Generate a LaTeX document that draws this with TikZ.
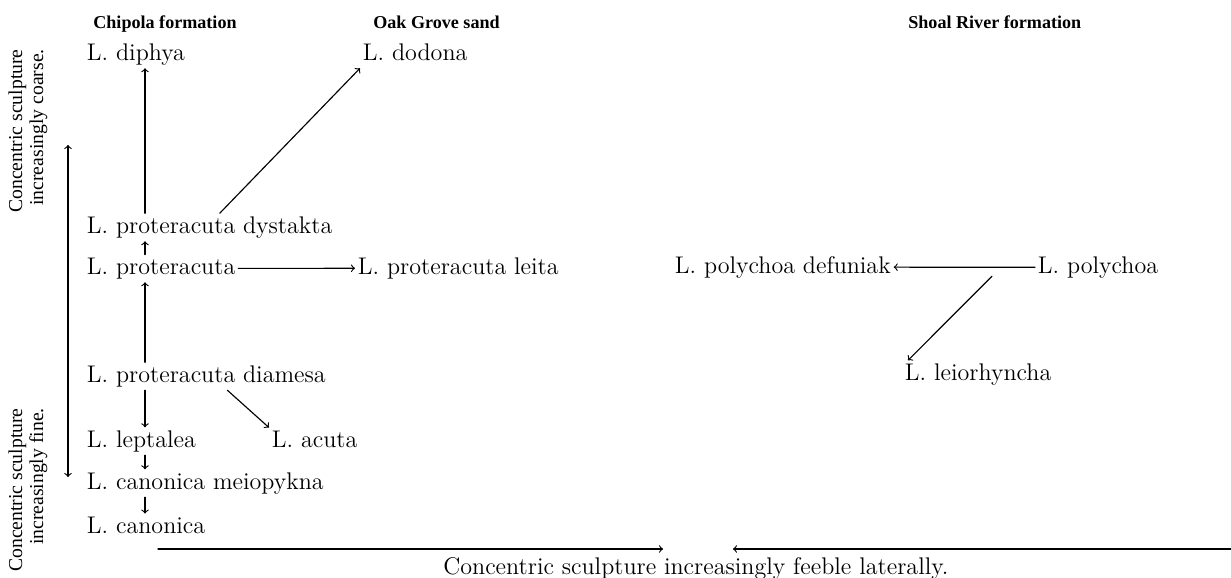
\documentclass[tikz,border=0pt]{standalone}
\usepackage{fontspec}
\usepackage{tikz}
\usetikzlibrary{calc}
\newfontfamily\headfont{Liberation Serif}

\tikzset{
  taxon/.style={anchor=base west, inner sep=1.5pt, text depth=0.3em,
    font=\fontsize{13.7}{16}\selectfont},
  heading/.style={anchor=base west, inner sep=0pt,
    font=\headfont\bfseries\fontsize{10.3}{12}\selectfont},
  sidenote/.style={rotate=90, anchor=east, inner sep=0pt, align=right,
    font=\headfont\fontsize{11.2}{12}\selectfont},
  axisnote/.style={anchor=base west, inner sep=0pt,
    font=\fontsize{13.7}{16}\selectfont},
  link/.style={->, line width=0.65pt},
}

\begin{document}
\begin{tikzpicture}[x=0.02cm, y=-0.02cm, line cap=round]
\useasboundingbox (0,0) rectangle (1231,578);
\coordinate (col) at (145,0);
% formations
\node[heading] (chipola) at (93,29) {Chipola formation};
\node[heading] (oakgrove) at (373,29) {Oak Grove sand};
\node[heading] (shoal) at (908,29) {Shoal River formation};
% species
\node[taxon] (diphya) at (84,60) {L. diphya};
\node[taxon] (dodona) at (360,60) {L. dodona};
\node[taxon] (dystakta) at (84,233) {L. proteracuta dystakta};
\node[taxon] (proter) at (84,274) {L. proteracuta};
\node[taxon] (leita) at (355,274) {L. proteracuta leita};
\node[taxon] (defuniak) at (672,273) {L. polychoa defuniak};
\node[taxon] (polychoa) at (1035,273) {L. polychoa};
\node[taxon] (diamesa) at (84,382) {L. proteracuta diamesa};
\node[taxon] (leiorh) at (902,380) {L. leiorhyncha};
\node[taxon] (leptalea) at (84,447) {L. leptalea};
\node[taxon] (acuta) at (269,447) {L. acuta};
\node[taxon] (meiopykna) at (84,489) {L. canonica meiopykna};
\node[taxon] (canonica) at (84,533) {L. canonica};
% side and bottom notes
\node[sidenote] (coarse) at (28,49) {Concentric sculpture\\increasingly coarse.};
\node[sidenote] (fine) at (28,408) {Concentric sculpture\\increasingly fine.};
\node[axisnote] (feeble) at (443,574) {Concentric sculpture increasingly feeble laterally.};
\coordinate (up) at (68,145);
\coordinate (down) at (68,477);
\coordinate (rstart) at (158,549);
\coordinate (rend) at (663,549);
\coordinate (lstart) at (1231,549);
\coordinate (lend) at (733,549);
\draw[link, <->] (down) -- (up);
\draw[link] (rstart) -- (rend);
\draw[link] (lstart) -- (lend);
% descent lines
\draw[link] (dystakta.north -| col) -- (diphya.south -| col);
\draw[link] ($(dystakta.north)+(10,0)$) -- (dodona.south west);
\draw[link] (proter.north -| col) -- (dystakta.south -| col);
\draw[link] (proter.east) -- (leita.west);
\draw[link] (diamesa.north -| col) -- (proter.south -| col);
\draw[link] (diamesa.south -| col) -- (leptalea.north -| col);
\draw[link] ($(diamesa.south)+(21,0)$) -- (acuta.north west);
\draw[link] (leptalea.south -| col) -- (meiopykna.north -| col);
\draw[link] (meiopykna.south -| col) -- (canonica.north -| col);
\draw[link] (polychoa.west) -- (defuniak.east);
\draw[link] ($(polychoa.south west)+(-43,-5)$) -- ($(leiorh.north west)+(6,0)$);
\end{tikzpicture}
\end{document}
